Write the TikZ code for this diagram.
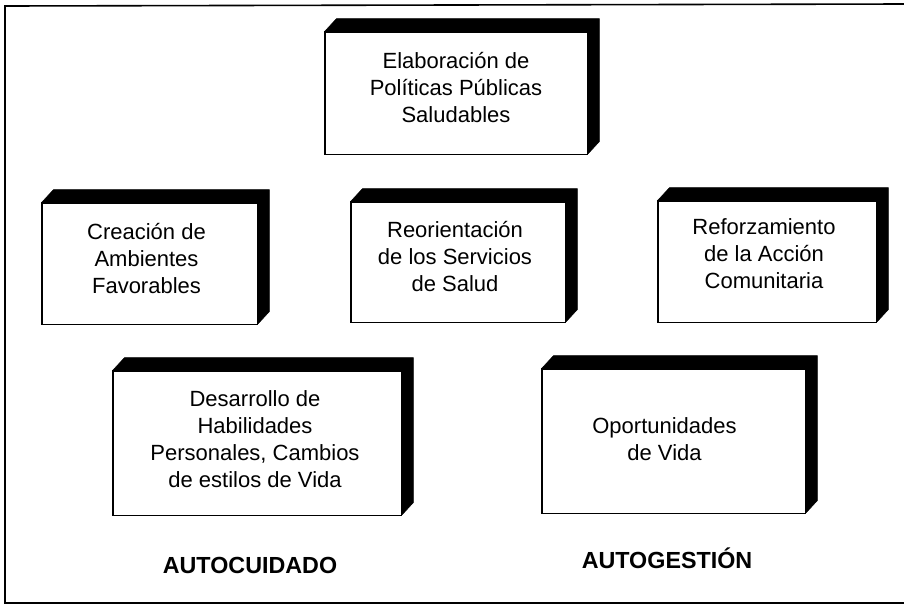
\documentclass[tikz,border=0pt]{standalone}
\usepackage{fontspec}
\setmainfont{Liberation Sans}
\begin{document}
\begin{tikzpicture}[x=1pt,y=-1pt,
  frontbox/.style={draw=black, line width=0.9pt, fill=white, inner sep=0pt},
  extrude/.style={fill=black, draw=black, line width=0.5pt, line join=round},
  boxtext/.style={align=center, inner sep=0pt, font=\fontsize{22}{27}\selectfont},
  tagtext/.style={inner sep=0pt, font=\fontsize{23.3}{28}\selectfont\bfseries}
]
\useasboundingbox (0,0) rectangle (904,606);
% outer frame (its right side lies beyond the picture)
\draw[line width=1.6pt] (904,4) -- (5,6) -- (5,603) -- (904,603);

\newcommand{\cajaplana}[6]{% name, cx, cy, w, h, (unused)
  \node[frontbox, minimum width=#4, minimum height=#5] (#1) at (#2,#3) {};
  \fill[extrude] (#1.north west) -- ([shift={(12,-13)}]#1.north west)
     -- ([shift={(12,-13)}]#1.north east) -- ([shift={(12,-13)}]#1.south east)
     -- (#1.south east) -- (#1.north east) -- cycle;
  \draw[line width=0.9pt] (#1.north west) rectangle (#1.south east);
}

\cajaplana{b1}{456}{93}{262pt}{122pt}{}
\cajaplana{b2}{149.5}{263.5}{215pt}{121pt}{}
\cajaplana{b3}{458}{262}{214pt}{120pt}{}
\cajaplana{b4}{767}{261.5}{218pt}{121pt}{}
\cajaplana{b5}{257}{443}{288pt}{144pt}{}
\cajaplana{b6}{673.5}{441}{263pt}{144pt}{}

\node[boxtext] (t1) at ([shift={(0,-5)}]b1.center) {Elaboración de\\Políticas Públicas\\Saludables};
\node[boxtext] (t2) at ([shift={(-3,-5)}]b2.center) {Creación de\\Ambientes\\Favorables};
\node[boxtext] (t3) at ([shift={(-3,-6)}]b3.center) {Reorientación\\de los Servicios\\de Salud};
\node[boxtext] (t4) at ([shift={(-3,-8)}]b4.center) {Reforzamiento\\de la Acción\\Comunitaria};
\node[boxtext] (t5) at ([shift={(-2,-4)}]b5.center) {Desarrollo de\\Habilidades\\Personales, Cambios\\de estilos de Vida};
\node[boxtext] (t6) at ([shift={(-9,-2)}]b6.center) {Oportunidades\\de Vida};

\node[tagtext] (autocuidado) at (250,565) {AUTOCUIDADO};
\node[tagtext] (autogestion) at (667,558) {AUTOGESTIÓN};
\end{tikzpicture}
\end{document}
